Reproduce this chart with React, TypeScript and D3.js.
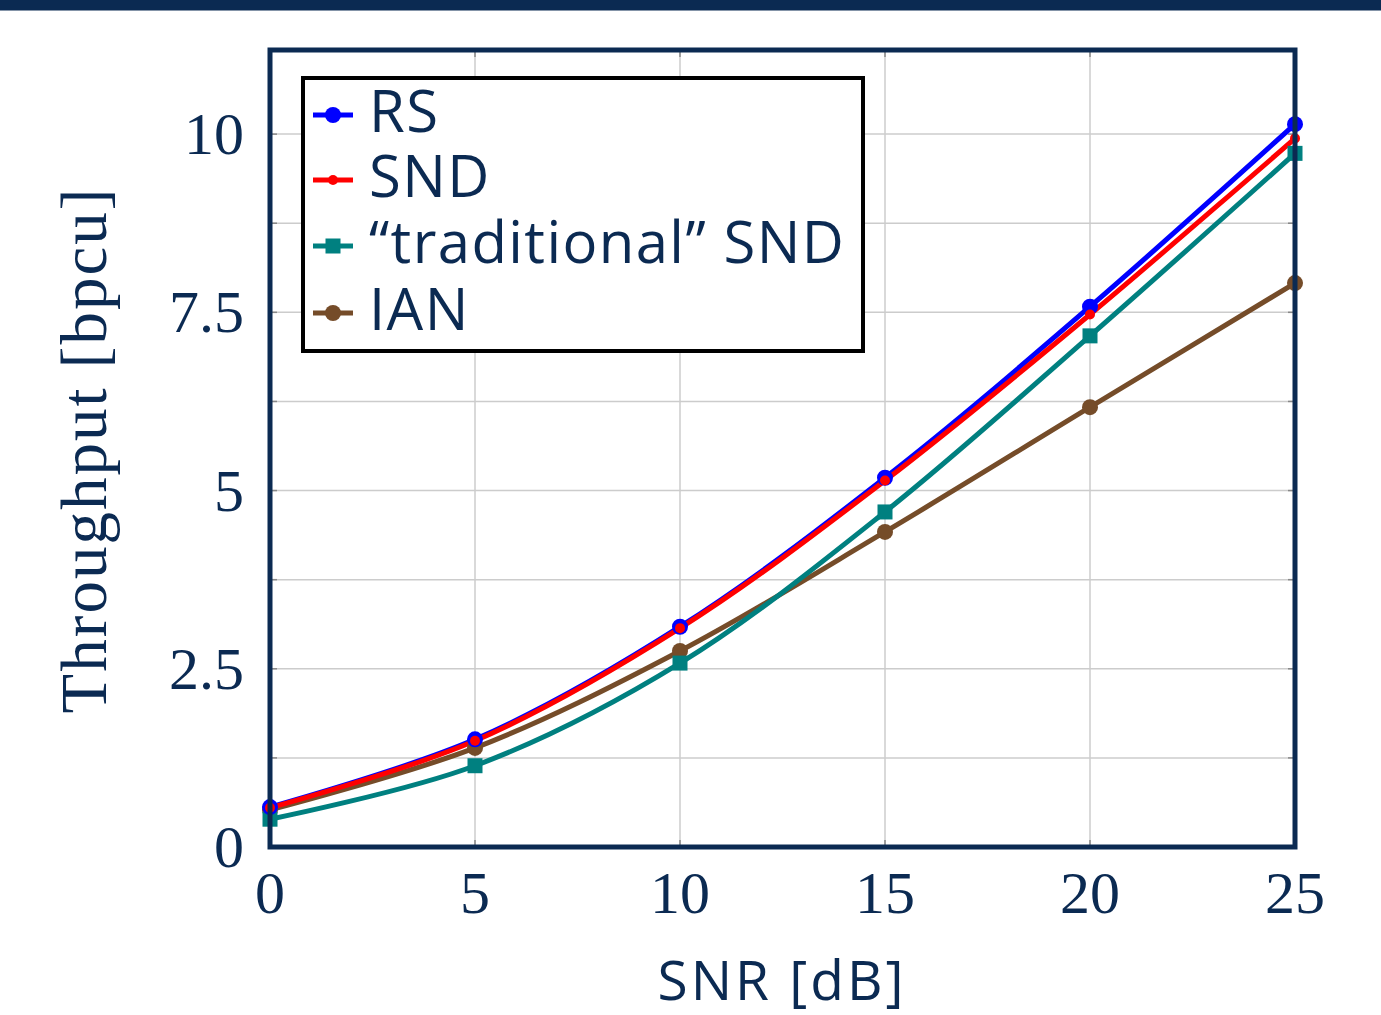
import React from "react";
import * as d3 from "d3";

const snr = [0, 5, 10, 15, 20, 25];
const rs = [0.56, 1.51, 3.09, 5.18, 7.58, 10.14];
const snd = [0.55, 1.49, 3.07, 5.14, 7.47, 9.94];
const tradSnd = [0.39, 1.14, 2.58, 4.70, 7.17, 9.73];
const ian = [0.52, 1.39, 2.75, 4.42, 6.17, 7.91];
const xTicks = [0, 5, 10, 15, 20, 25];
const yTicks = [0, 2.5, 5, 7.5, 10];
const yTickLabels = ["0", "2.5", "5", "7.5", "10"];
const yGrid = [1.25, 2.5, 3.75, 5, 6.25, 7.5, 8.75, 10];
const seriesNames = ["RS", "SND", "\u201Ctraditional\u201D SND", "IAN"];

const NAVY = "#0b2a52";

export default function App() {
  const W = 1381, H = 1015;
  const L = 270, R = 1295, T = 50, B = 847;
  const x = d3.scaleLinear().domain([0, 25]).range([L, R]);
  const y = d3.scaleLinear().domain([0, 11.18]).range([B, T]);
  const line = d3
    .line<number>()
    .x((_, i) => x(snr[i]))
    .y((d) => y(d))
    .curve(d3.curveCatmullRom.alpha(0.5));

  const series = [
    { name: seriesNames[0], data: rs, color: "#0000ff", marker: "circle", r: 8 },
    { name: seriesNames[1], data: snd, color: "#ff0000", marker: "circle", r: 5 },
    { name: seriesNames[2], data: tradSnd, color: "#008080", marker: "square", r: 7.5 },
    { name: seriesNames[3], data: ian, color: "#754c29", marker: "circle", r: 8 },
  ];

  const drawMarker = (m: string, cx: number, cy: number, r: number, c: string, key: any) =>
    m === "square" ? (
      <rect key={key} x={cx - r} y={cy - r} width={2 * r} height={2 * r} fill={c} />
    ) : (
      <circle key={key} cx={cx} cy={cy} r={r} fill={c} />
    );

  const legendRows = [115, 180, 246, 313];

  return (
    <svg width={W} height={H} style={{ position: "absolute", left: 0, top: 0, background: "#fff" }}>
      <rect x={0} y={0} width={W} height={10.5} fill={NAVY} />
      {/* grid */}
      {xTicks.slice(1, -1).map((t) => (
        <line key={"gx" + t} x1={x(t)} x2={x(t)} y1={T} y2={B} stroke="#cccccc" strokeWidth={1.5} />
      ))}
      {yGrid.map((t) => (
        <line key={"gy" + t} x1={L} x2={R} y1={y(t)} y2={y(t)} stroke="#cccccc" strokeWidth={1.5} />
      ))}
      {/* inner ticks */}
      {yGrid.map((t) => (
        <g key={"ty" + t}>
          <line x1={L} x2={L + 7} y1={y(t)} y2={y(t)} stroke="#888" strokeWidth={1.5} />
          <line x1={R - 7} x2={R} y1={y(t)} y2={y(t)} stroke="#888" strokeWidth={1.5} />
        </g>
      ))}
      {xTicks.slice(1, -1).map((t) => (
        <g key={"tx" + t}>
          <line x1={x(t)} x2={x(t)} y1={T} y2={T + 7} stroke="#888" strokeWidth={1.5} />
          <line x1={x(t)} x2={x(t)} y1={B - 7} y2={B} stroke="#888" strokeWidth={1.5} />
        </g>
      ))}
      {/* series lines */}
      {[3, 2, 0, 1].map((i) => {
        const s = series[i];
        return (
          <path key={"l" + i} d={line(s.data) || ""} fill="none" stroke={s.color} strokeWidth={5} />
        );
      })}
      {[3, 2, 0, 1].map((i) => {
        const s = series[i];
        return (
          <g key={"m" + i}>
            {s.data.map((v, j) => drawMarker(s.marker, x(snr[j]), y(v), s.r, s.color, j))}
          </g>
        );
      })}
      {/* frame */}
      <rect x={L} y={T} width={R - L} height={B - T} fill="none" stroke={NAVY} strokeWidth={5} />
      {/* tick labels */}
      {xTicks.map((t) => (
        <text
          key={"xl" + t}
          x={x(t)}
          y={913}
          textAnchor="middle"
          fontFamily="'Liberation Serif', serif"
          fontSize={60}
          fill={NAVY}
        >
          {t}
        </text>
      ))}
      {yTicks.map((t, i) => (
        <text
          key={"yl" + t}
          x={244}
          y={y(t) + 20}
          textAnchor="end"
          fontFamily="'Liberation Serif', serif"
          fontSize={60}
          fill={NAVY}
        >
          {yTickLabels[i]}
        </text>
      ))}
      {/* axis titles */}
      <text
        x={782}
        y={1000}
        textAnchor="middle"
        fontFamily="'Open Sans', sans-serif"
        fontSize={55}
        letterSpacing={3}
        fill={NAVY}
      >
        SNR [dB]
      </text>
      <text
        transform={`translate(106, ${450}) rotate(-90)`}
        textAnchor="middle"
        fontFamily="'Liberation Serif', serif"
        fontSize={65}
        letterSpacing={2}
        fill={NAVY}
      >
        Throughput [bpcu]
      </text>
      {/* legend */}
      <rect x={303} y={78} width={560} height={273} fill="#fff" stroke="#000" strokeWidth={4} />
      {series.map((s, i) => (
        <g key={"lg" + i}>
          <line x1={313} x2={353} y1={legendRows[i]} y2={legendRows[i]} stroke={s.color} strokeWidth={5} />
          {drawMarker(s.marker, 333, legendRows[i], s.r, s.color, "lm" + i)}
          <text
            x={369}
            y={legendRows[i] + 17}
            fontFamily="'Open Sans', sans-serif"
            fontSize={58}
            letterSpacing={1.4}
            fill={NAVY}
          >
            {s.name}
          </text>
        </g>
      ))}
    </svg>
  );
}
